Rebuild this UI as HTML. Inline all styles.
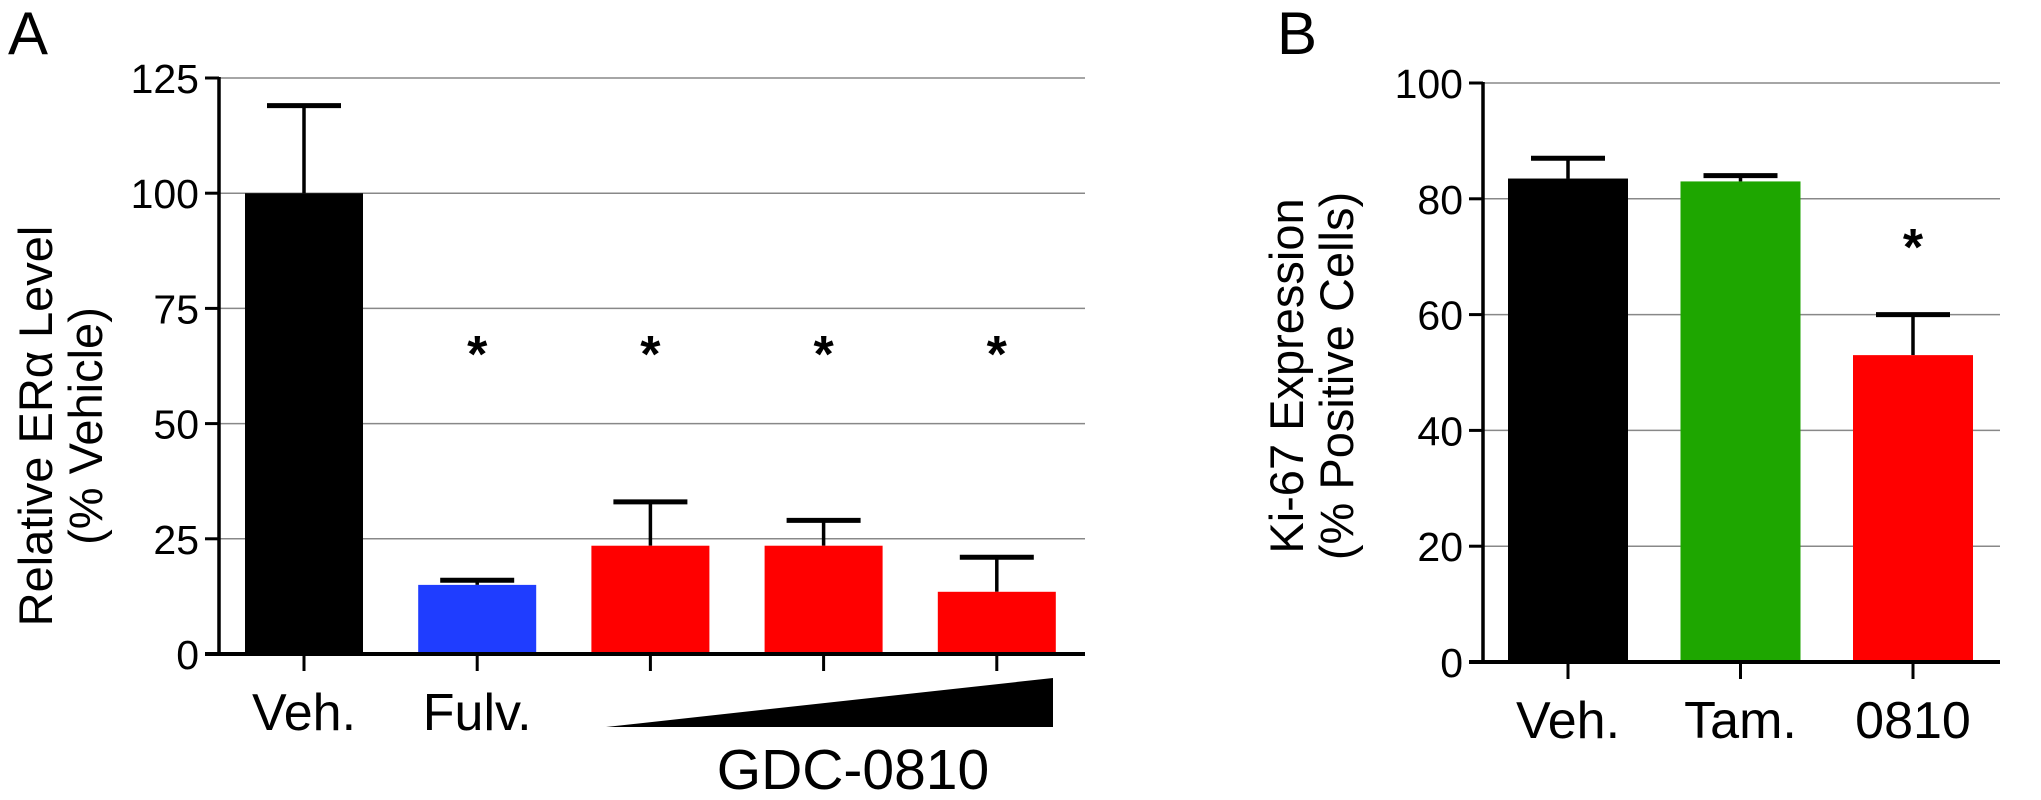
<!DOCTYPE html>
<html><head><meta charset="utf-8"><style>
html,body{margin:0;padding:0;background:#fff}
svg{display:block;font-family:"Liberation Sans",sans-serif}
</style></head><body>
<svg id="c" width="2041" height="800" viewBox="0 0 2041 800"></svg>
<script>
const catsA=["Veh.","Fulv.","GDC1","GDC2","GDC3"];
const valsA=[100,15,23.5,23.5,13.5];
const errA=[19,1,9.5,5.5,7.5];
const colA=["#000000","#1f3dff","#ff0000","#ff0000","#ff0000"];
const starA=[false,true,true,true,true];
const ticksA=[0,25,50,75,100,125];
const catsB=["Veh.","Tam.","0810"];
const valsB=[83.5,83,53];
const errB=[3.5,1,7];
const colB=["#000000","#1ea600","#ff0000"];
const starB=[false,false,true];
const ticksB=[0,20,40,60,80,100];

const svg=document.getElementById('c');
const NS="http://www.w3.org/2000/svg";
function mk(t,a,p){const e=document.createElementNS(NS,t);for(const k in a)e.setAttribute(k,a[k]);(p||svg).appendChild(e);return e;}

function panel(o){
  const g=mk('g',{});
  
  
  const y=v=>o.y0-(v-o.min)/(o.max-o.min)*(o.y0-o.y1);
  const x=i=>o.xs+i*o.step;
  o.ticks.forEach(t=>{
    if(t>0){const gl=mk('line',{x1:o.ax,x2:o.gx,y1:y(t),y2:y(t),stroke:'#888','stroke-width':1.5},g);
      }
    const tk=mk('line',{x1:o.ax-14,x2:o.ax,y1:y(t),y2:y(t),stroke:'#000','stroke-width':3},g);
    
    const tl=mk('text',{x:o.ax-20,y:y(t)+15,'text-anchor':'end','font-size':41},g);
    tl.textContent=t;
    
  });
  o.vals.forEach((v,i)=>{
    const cx=x(i)+o.bw/2;
    const eb=mk('line',{x1:cx,x2:cx,y1:y(v),y2:y(v+o.err[i]),stroke:'#000','stroke-width':3.5},g);
    
    const ec=mk('line',{x1:cx-37,x2:cx+37,y1:y(v+o.err[i]),y2:y(v+o.err[i]),stroke:'#000','stroke-width':5},g);
    
    const r=mk('rect',{x:x(i),y:y(v),width:o.bw,height:y(0)-y(v),fill:o.col[i]},g);
    
    
    const xt=mk('line',{x1:cx,x2:cx,y1:o.y0,y2:o.y0+17,stroke:'#000','stroke-width':3},g);
    
    if(o.star[i]){const s=mk('text',{x:cx,y:o.starY,'text-anchor':'middle','font-size':52,'font-weight':'bold'},g);
      s.textContent='*';}
    if(o.labels[i]){const l=mk('text',{x:cx,y:o.y0+76,'text-anchor':'middle','font-size':52},g);
      l.textContent=o.labels[i];}
  });
  const ya=mk('line',{x1:o.ax,x2:o.ax,y1:o.y1-1,y2:o.y0+2,stroke:'#000','stroke-width':3.5},g);
  
  const xa=mk('line',{x1:o.ax-14,x2:o.gx,y1:o.y0,y2:o.y0,stroke:'#000','stroke-width':4},g);
  
  o.title.forEach((t,k)=>{
    const tx=o.tx+k*50;
    const e=mk('text',{x:tx,y:o.ty,'text-anchor':'middle','font-size':47,transform:`rotate(-90 ${tx} ${o.ty})`},g);
    e.textContent=t;
  });
  return {x,y};
}

panel({name:'panel-a',cats:catsA,vals:valsA,err:errA,col:colA,star:starA,ticks:ticksA,min:0,max:125,
  y0:654,y1:78,ax:219,gx:1085,xs:245,step:173.2,bw:118,starY:372,
  labels:["Veh.","Fulv.","","",""],title:["Relative ERα Level","(% Vehicle)"],tx:52,ty:426});
panel({name:'panel-b',cats:catsB,vals:valsB,err:errB,col:colB,star:starB,ticks:ticksB,min:0,max:100,
  y0:662,y1:83,ax:1483,gx:2000,xs:1508,step:172.5,bw:120,starY:265,
  labels:catsB,title:["Ki-67 Expression","(% Positive Cells)"],tx:1303,ty:376});

const tri=mk('polygon',{points:'606,727 1053,678 1053,727',fill:'#000'});

const gdc=mk('text',{x:853,y:789,'text-anchor':'middle','font-size':57});
gdc.textContent='GDC-0810';
const la=mk('text',{x:8,y:54,'font-size':60});
la.textContent='A';
const lb=mk('text',{x:1277,y:54,'font-size':60});
lb.textContent='B';
</script>
</body></html>
